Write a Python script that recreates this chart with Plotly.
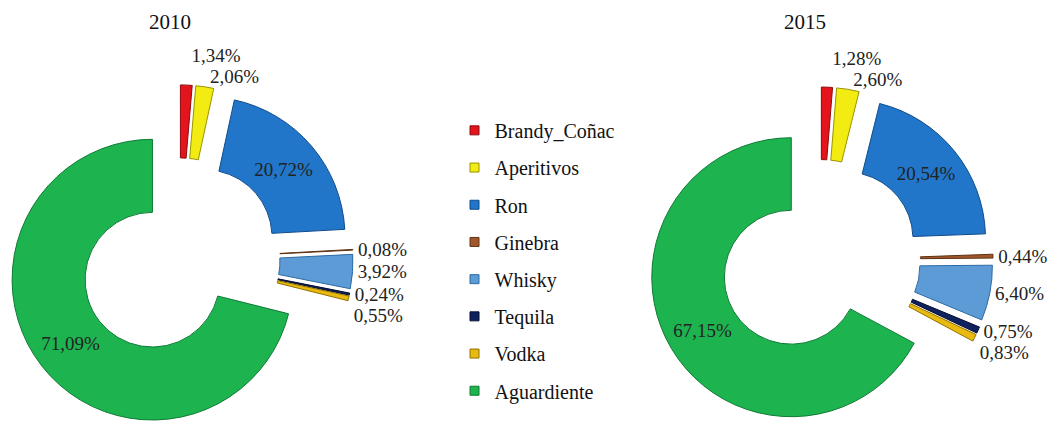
import plotly.graph_objects as go

labels = ["Brandy_Coñac", "Aperitivos", "Ron", "Ginebra", "Whisky", "Tequila", "Vodka", "Aguardiente"]
values_2010 = [1.34, 2.06, 20.72, 0.08, 3.92, 0.24, 0.55, 71.09]
values_2015 = [1.28, 2.60, 20.54, 0.44, 6.40, 0.75, 0.83, 67.15]
colors = ["#E3141C", "#F2EC12", "#2176C9", "#A0582A", "#5C9BD6", "#10225E", "#E8BA10", "#1DB450"]
edge_colors = ["#8E0A0E", "#9A9400", "#0F4C8A", "#5E3214", "#2E6AA3", "#050E30", "#927200", "#0E7A33"]
text_pos = ["outside", "outside", "inside", "outside", "outside", "outside", "outside", "inside"]

FONT = "Liberation Serif"
TEXT_COLOR = "#222222"

def fmt(vals):
    return [f'<span style="color:{TEXT_COLOR};fill-opacity:1">' + f"{v:.2f}".replace(".", ",") + "%</span>"
            for v in vals]

fig = go.Figure()

def add_pie(vals, dom_x, dom_y):
    fig.add_trace(go.Pie(
        labels=labels, values=vals, text=fmt(vals), textinfo="text",
        sort=False, direction="clockwise", rotation=0, hole=0.48,
        pull=[0.24] * len(vals), automargin=False,
        marker=dict(colors=colors, line=dict(color=edge_colors, width=1)),
        textposition=text_pos, insidetextorientation="horizontal",
        insidetextfont=dict(family=FONT, size=19, color=TEXT_COLOR),
        outsidetextfont=dict(family=FONT, size=19, color="rgba(0,0,0,0)"),
        domain=dict(x=dom_x, y=dom_y), showlegend=False, hoverinfo="label",
    ))

add_pie(values_2010, [0.0047, 0.3340], [0.0, 0.804])
add_pie(values_2015, [0.6121, 0.9395], [0.0, 0.799])

# legend entries
for i, (lab, col) in enumerate(zip(labels, colors)):
    fig.add_trace(go.Scatter(
        x=[None], y=[None], mode="markers", name=lab, legendgroup=lab,
        marker=dict(symbol="square", size=9, color=col, line=dict(color=edge_colors[i], width=1)),
        showlegend=True, hoverinfo="skip",
    ))

fig.update_layout(
    width=1057, height=433,
    margin=dict(l=0, r=0, t=0, b=0, pad=0, autoexpand=False),
    font=dict(family=FONT, size=18, color="#111111"),
    paper_bgcolor="white", plot_bgcolor="white",
    xaxis=dict(visible=False), yaxis=dict(visible=False),
    legend=dict(x=0.43, y=0.744, xanchor="left", yanchor="top",
                font=dict(family=FONT, size=20, color="#111111"),
                tracegroupgap=8.2, itemwidth=30, bgcolor="rgba(0,0,0,0)"),
    annotations=[
        dict(text="2010", x=170 / 1057, y=1 - 22 / 433, xref="paper", yref="paper",
             xanchor="center", yanchor="middle", showarrow=False,
             font=dict(family=FONT, size=21, color="#111111")),
        dict(text="2015", x=805 / 1057, y=1 - 22 / 433, xref="paper", yref="paper",
             xanchor="center", yanchor="middle", showarrow=False,
             font=dict(family=FONT, size=21, color="#111111")),
    ],
)

fig.write_html("out.html")
